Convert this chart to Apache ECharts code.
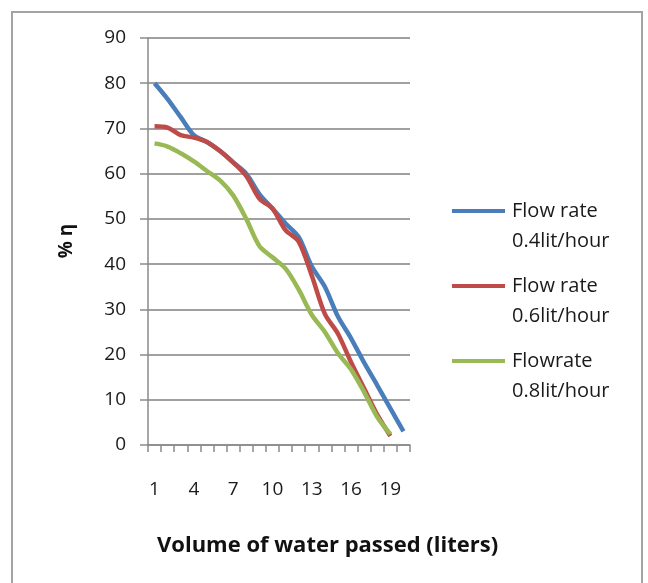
<!DOCTYPE html>
<html>
<head>
<meta charset="utf-8">
<script src="https://cdn.jsdelivr.net/npm/echarts@6/dist/echarts.min.js"></script>
<style>
html,body{margin:0;padding:0;background:#fff;}
#chart{width:648px;height:583px;}
</style>
</head>
<body>
<div id="chart"></div>
<script>
const categories = ['1','2','3','4','5','6','7','8','9','10','11','12','13','14','15','16','17','18','19','20'];
const seriesNames = ['Flow rate\n0.4lit/hour', 'Flow rate\n0.6lit/hour', 'Flowrate\n0.8lit/hour'];
const flow04 = [80, 76.5, 72.5, 68.5, 67, 65, 62.5, 60, 55.5, 52.3, 49, 46, 39.5, 35, 28.4, 23.6, 18.2, 13.2, 8.1, 3];
const flow06 = [70.5, 70.2, 68.5, 68, 67, 65, 62.5, 59.5, 54.5, 52.3, 47.5, 45, 37.5, 29, 24.6, 18.3, 12.5, 6.7, 2];
const flow08 = [66.7, 66, 64.5, 62.7, 60.6, 58.5, 55.2, 50, 44, 41.5, 39, 34.4, 28.8, 25, 20.3, 16.7, 11.7, 6.2, 2.4];
const yTicks = {min: 0, max: 90, interval: 10};
const xTitle = 'Volume of water passed (liters)';
const yTitle = '% η';

const colors = ['#4A7EBB', '#BE4B48', '#98B954'];
const font = '"Open Sans"';
const chart = echarts.init(document.getElementById('chart'), null, {renderer: 'canvas'});
const mk = (name, data, i) => ({
  name: name, type: 'line', data: data, smooth: 0.3, symbol: 'none',
  lineStyle: {color: colors[i], width: 4.5}, itemStyle: {color: colors[i]}
});
chart.setOption({
  animation: false,
  backgroundColor: '#fff',
  graphic: [
    {type: 'rect', shape: {x: 12, y: 12, width: 630, height: 620}, style: {fill: 'none', stroke: '#a3a3a3', lineWidth: 2}, z: -1},
    {type: 'text', x: 157, y: 546, style: {text: xTitle, font: 'bold 22px ' + font, fill: '#111', verticalAlign: 'middle'}},
    {type: 'text', x: 67, y: 241, rotation: Math.PI/2, style: {text: yTitle, font: 'bold 19px ' + font, fill: '#111', align: 'center', verticalAlign: 'middle'}}
  ],
  grid: {left: 148, right: 238, top: 38, bottom: 138, containLabel: false},
  legend: {
    orient: 'vertical', left: 452, top: 166, itemGap: -15, padding: 0,
    itemWidth: 53, itemHeight: 4, icon: 'rect',
    textStyle: {fontFamily: font, fontSize: 20, color: '#1a1a1a', lineHeight: 30, padding: [0, 0, 0, 2]},
    formatter: n => '\n' + n,
    data: seriesNames
  },
  xAxis: {
    type: 'category', data: categories, boundaryGap: true,
    axisLine: {lineStyle: {color: '#8a8a8a', width: 1.5}},
    axisTick: {show: true, interval: 0, length: 7, lineStyle: {color: '#8a8a8a', width: 1.5}},
    axisLabel: {interval: 2, margin: 35, fontFamily: font, fontSize: 19, color: '#1a1a1a'},
    splitLine: {show: false}
  },
  yAxis: {
    type: 'value', min: yTicks.min, max: yTicks.max, interval: yTicks.interval,
    axisLine: {show: true, lineStyle: {color: '#8a8a8a', width: 1.5}},
    axisTick: {show: true, length: 8, lineStyle: {color: '#8a8a8a', width: 1.5}},
    axisLabel: {margin: 22, fontFamily: font, fontSize: 19, color: '#1a1a1a'},
    splitLine: {show: true, lineStyle: {color: '#a0a0a0', width: 2}}
  },
  series: [mk(seriesNames[0], flow04, 0), mk(seriesNames[1], flow06, 1), mk(seriesNames[2], flow08, 2)]
});
</script>
</body>
</html>
